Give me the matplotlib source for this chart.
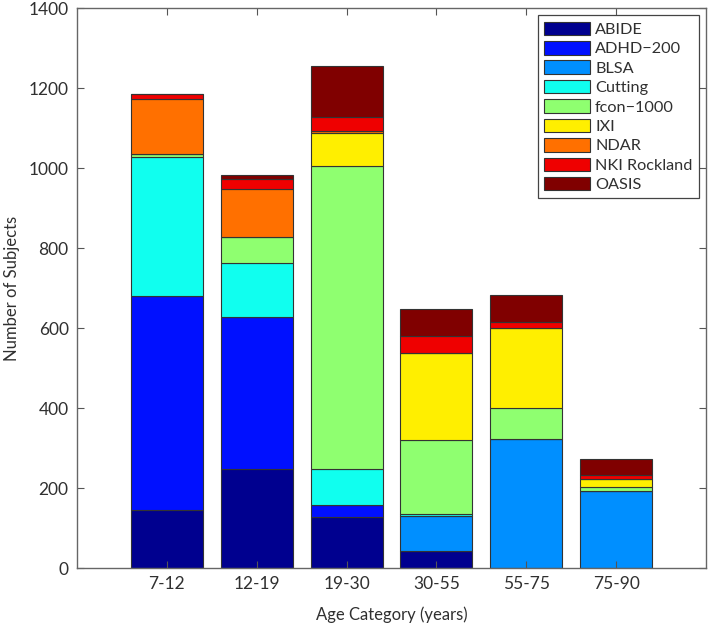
import matplotlib
matplotlib.use("Agg")
import matplotlib.pyplot as plt
import numpy as np

plt.rcParams['font.family'] = ['Lato', 'DejaVu Sans']

# age categories and per-dataset subject counts
ages = ["7-12", "12-19", "19-30", "30-55", "55-75", "75-90"]
datasets = ["ABIDE", "ADHD\u2212200", "BLSA", "Cutting", "fcon\u22121000",
            "IXI", "NDAR", "NKI Rockland", "OASIS"]

abide   = [145, 248, 127, 42, 0, 0]
adhd    = [536, 380, 31, 0, 0, 0]
blsa    = [0, 0, 0, 87, 322, 192]
cutting = [347, 136, 89, 5, 0, 0]
fcon    = [8, 63, 758, 186, 77, 11]
ixi     = [0, 0, 84, 217, 200, 20]
ndar    = [138, 121, 4, 0, 0, 0]
nki     = [12, 25, 34, 44, 15, 10]
oasis   = [0, 9, 128, 66, 68, 39]

series = [abide, adhd, blsa, cutting, fcon, ixi, ndar, nki, oasis]
colors = ["#00008f", "#0010ff", "#008fff", "#10ffef", "#8fff70",
          "#ffef00", "#ff7000", "#ef0000", "#800000"]

fig = plt.figure(figsize=(7.09, 6.28), dpi=100)
ax = fig.add_axes([0.1086, 0.0955, 0.8872, 0.8915])

x = np.arange(1, len(ages) + 1)
bottom = np.zeros(len(ages))
for name, vals, col in zip(datasets, series, colors):
    ax.bar(x, vals, width=0.8, bottom=bottom, color=col, label=name,
           edgecolor="#333333", linewidth=0.8)
    bottom += np.array(vals)

txt = "#303030"
ax.set_xlim(0, 7)
ax.set_ylim(0, 1400)
ax.set_xticks(x)
ax.set_xticklabels(ages)
ax.set_yticks(np.arange(0, 1401, 200))
ax.tick_params(direction="in", top=True, right=True, labelsize=12.5,
               colors="#555555", labelcolor=txt, length=5, pad=6)
for s in ax.spines.values():
    s.set_color("#666666")
    s.set_linewidth(1.0)

ax.set_xlabel("Age Category (years)", fontsize=12, color=txt, labelpad=10)
ax.set_ylabel("Number of Subjects", fontsize=12, color=txt, labelpad=6)

leg = ax.legend(loc="upper right", fontsize=11.7, fancybox=False,
                handlelength=2.85, handleheight=0.9, labelspacing=0.25,
                handletextpad=0.3, borderpad=0.38, borderaxespad=0.45,
                framealpha=1)
leg.get_frame().set_edgecolor("#444444")
leg.get_frame().set_linewidth(0.9)
for t in leg.get_texts():
    t.set_color(txt)

plt.savefig("out.png", dpi=100)
